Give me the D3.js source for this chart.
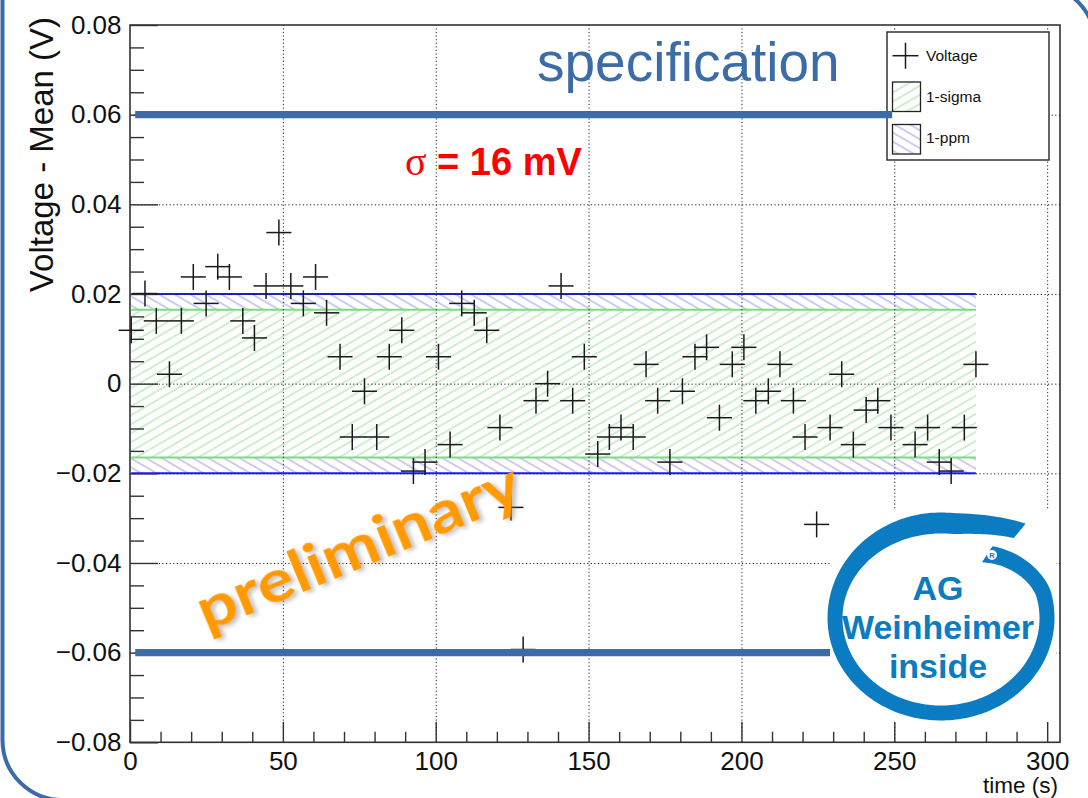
<!DOCTYPE html>
<html>
<head>
<meta charset="utf-8">
<script src="https://cdn.jsdelivr.net/npm/d3@7"></script>
<style>
  body { margin: 0; background: #fff; }
  svg { display: block; font-family: 'Liberation Sans', Arial, sans-serif; }
</style>
</head>
<body>
<div id="main"></div>
<script>
// measurement: time (s) and voltage minus mean (V)
const times = [0.4, 4.9, 8.6, 12.9, 16.8, 20.7, 24.9, 28.7, 32.5, 36.9, 40.7, 44.5, 48.7, 52.6,
  56.7, 60.7, 64.3, 68.7, 72.7, 76.7, 80.7, 84.8, 88.9, 92.7, 96.5, 100.9, 104.7, 108.5, 112.6,
  116.7, 121.0, 124.6, 128.6, 132.8, 136.6, 141.0, 144.8, 148.6, 153.0, 156.8, 160.6, 164.6,
  168.8, 172.6, 176.6, 180.7, 184.8, 188.6, 192.8, 197.0, 200.8, 204.7, 208.8, 212.6, 217.0,
  220.8, 224.6, 229.0, 232.8, 236.6, 240.8, 244.6, 248.9, 256.8, 260.9, 264.7, 268.6, 272.9,
  276.7];
const voltages = [0.0119, 0.0201, 0.0140, 0.0021, 0.0140, 0.0238, 0.0179, 0.0261, 0.0238, 0.0140,
  0.0102, 0.0218, 0.0337, 0.0218, 0.0179, 0.0238, 0.0158, 0.0060, -0.0119, -0.0017, -0.0119,
  0.0060, 0.0119, -0.0195, -0.0175, 0.0060, -0.0136, 0.0179, 0.0158, 0.0119, -0.0098, -0.0276,
  -0.0593, -0.0038, 0.0000, 0.0218, -0.0038, 0.0060, -0.0157, -0.0119, -0.0098, -0.0119, 0.0043,
  -0.0038, -0.0175, -0.0017, 0.0060, 0.0081, -0.0076, 0.0043, 0.0081, -0.0038, -0.0017, 0.0043,
  -0.0038, -0.0119, -0.0314, -0.0098, 0.0021, -0.0136, -0.0059, -0.0038, -0.0098, -0.0136,
  -0.0098, -0.0175, -0.0195, -0.0098, 0.0043];
const xErr = 4.1;
const yErr = 0.0029;
const sigmaBand = 0.0165;
const ppmBand = 0.02;
const specLimit = 0.06;
const specRange = [1.7, 249.3];
const xTicksMajor = [0, 50, 100, 150, 200, 250, 300];
const yTicksMajor = [-0.08, -0.06, -0.04, -0.02, 0, 0.02, 0.04, 0.06, 0.08];
const legendLabels = ['Voltage', '1-sigma', '1-ppm'];
const logoLines = ['AG', 'Weinheimer', 'inside'];

const width = 1088;
const height = 798;
const frame = { left: 130, right: 1060, top: 25, bottom: 742.3 };
const specColor = '#3b6ca7';
const logoColor = '#0b7bc2';

const svg = d3.select('#main')
  .append('svg')
  .attr('width', width)
  .attr('height', height);

const x = d3.scaleLinear().domain([0, 304.2]).range([frame.left, frame.right]);
const y = d3.scaleLinear().domain([-0.08, 0.08]).range([frame.bottom, frame.top]);

const defs = svg.append('defs');
const hatch = (id, color, angle) => {
  const p = defs.append('pattern')
    .attr('id', id)
    .attr('patternUnits', 'userSpaceOnUse')
    .attr('width', 10)
    .attr('height', 7.8)
    .attr('patternTransform', `rotate(${angle})`);
  p.append('line')
    .attr('x1', -1).attr('x2', 11)
    .attr('y1', 3.9).attr('y2', 3.9)
    .attr('stroke', color)
    .attr('stroke-width', 0.9);
};
hatch('hatch-green', '#8edc8e', -30);
hatch('hatch-blue', '#8a8af0', 30);

defs.append('filter')
  .attr('id', 'shadow')
  .attr('x', '-10%').attr('y', '-10%')
  .attr('width', '120%').attr('height', '130%')
  .append('feDropShadow')
  .attr('dx', 3).attr('dy', 3)
  .attr('stdDeviation', 2)
  .attr('flood-color', '#777')
  .attr('flood-opacity', 0.45);

// bands
const [t0, t1] = d3.extent(times);

svg.append('rect')
  .attr('x', x(t0)).attr('width', x(t1) - x(t0))
  .attr('y', y(ppmBand)).attr('height', y(-ppmBand) - y(ppmBand))
  .attr('fill', 'url(#hatch-blue)');

svg.append('rect')
  .attr('x', x(t0)).attr('width', x(t1) - x(t0))
  .attr('y', y(sigmaBand)).attr('height', y(-sigmaBand) - y(sigmaBand))
  .attr('fill', '#fff');

svg.append('rect')
  .attr('x', x(t0)).attr('width', x(t1) - x(t0))
  .attr('y', y(sigmaBand)).attr('height', y(-sigmaBand) - y(sigmaBand))
  .attr('fill', 'url(#hatch-green)');

[[ppmBand, '#1a1aff'], [-ppmBand, '#1a1aff'], [sigmaBand, '#7ddc7d'], [-sigmaBand, '#7ddc7d']]
  .forEach(([v, c]) => {
    svg.append('line')
      .attr('x1', x(t0)).attr('x2', x(t1))
      .attr('y1', y(v)).attr('y2', y(v))
      .attr('stroke', c)
      .attr('stroke-width', 2);
  });

// grid
svg.append('g')
  .attr('transform', `translate(0,${frame.bottom})`)
  .call(d3.axisBottom(x)
    .tickValues(xTicksMajor.slice(1))
    .tickSize(-(frame.bottom - frame.top))
    .tickFormat(''))
  .call((g) => g.select('.domain').remove())
  .selectAll('line')
  .attr('stroke', '#222')
  .attr('stroke-dasharray', '1.2,2.4');

svg.append('g')
  .attr('transform', `translate(${frame.left},0)`)
  .call(d3.axisLeft(y)
    .tickValues(yTicksMajor.slice(1, -1))
    .tickSize(-(frame.right - frame.left))
    .tickFormat(''))
  .call((g) => g.select('.domain').remove())
  .selectAll('line')
  .attr('stroke', '#222')
  .attr('stroke-dasharray', '1.2,2.4');

// frame
svg.append('rect')
  .attr('x', frame.left).attr('y', frame.top)
  .attr('width', frame.right - frame.left)
  .attr('height', frame.bottom - frame.top)
  .attr('fill', 'none')
  .attr('stroke', '#333')
  .attr('stroke-width', 1.6);

// axes, ticks inside the frame
const yMinor = d3.range(-16, 17).filter((k) => k % 4 !== 0).map((k) => k * 0.005);
const xMinor = d3.range(10, 301, 10).filter((v) => v % 50 !== 0);

const yAxis = svg.append('g')
  .attr('transform', `translate(${frame.left},0)`)
  .call(d3.axisLeft(y)
    .tickValues(yTicksMajor)
    .tickSize(-28)
    .tickPadding(8.5)
    .tickFormat((d) => (Math.abs(d) < 1e-9 ? '0' : d3.format('.2f')(d))));
yAxis.select('.domain').remove();
yAxis.selectAll('text')
  .attr('fill', '#111')
  .style('font-size', '26px');
yAxis.selectAll('line').attr('stroke', '#333').attr('stroke-width', 1.4);

svg.append('g')
  .attr('transform', `translate(${frame.left},0)`)
  .call(d3.axisLeft(y).tickValues(yMinor).tickSize(-14).tickFormat(''))
  .call((g) => g.select('.domain').remove())
  .selectAll('line')
  .attr('stroke', '#333')
  .attr('stroke-width', 1.4);

const xAxis = svg.append('g')
  .attr('transform', `translate(0,${frame.bottom})`)
  .call(d3.axisBottom(x)
    .tickValues(xTicksMajor)
    .tickSize(-20.5)
    .tickPadding(9)
    .tickFormat(d3.format('d')));
xAxis.select('.domain').remove();
xAxis.selectAll('text')
  .attr('fill', '#111')
  .style('font-size', '26px');
xAxis.selectAll('line').attr('stroke', '#333').attr('stroke-width', 1.4);

svg.append('g')
  .attr('transform', `translate(0,${frame.bottom})`)
  .call(d3.axisBottom(x).tickValues(xMinor).tickSize(-10.5).tickFormat(''))
  .call((g) => g.select('.domain').remove())
  .selectAll('line')
  .attr('stroke', '#333')
  .attr('stroke-width', 1.4);

svg.append('text')
  .attr('transform', 'translate(52.5,17) rotate(-90)')
  .attr('text-anchor', 'end')
  .attr('fill', '#111')
  .style('font-size', '33px')
  .text('Voltage - Mean (V)');

svg.append('text')
  .attr('x', 1058)
  .attr('y', 793)
  .attr('text-anchor', 'end')
  .attr('fill', '#111')
  .style('font-size', '22.5px')
  .text('time (s)');

// data points with error bars
const points = svg.append('g')
  .attr('stroke', '#1a1a1a')
  .attr('stroke-width', 1.5);

times.forEach((t, i) => {
  const v = voltages[i];
  points.append('line')
    .attr('x1', x(t - xErr)).attr('x2', x(t + xErr))
    .attr('y1', y(v)).attr('y2', y(v));
  points.append('line')
    .attr('x1', x(t)).attr('x2', x(t))
    .attr('y1', y(v - yErr)).attr('y2', y(v + yErr));
});

// annotations
svg.append('text')
  .attr('x', 537)
  .attr('y', 81)
  .attr('fill', specColor)
  .style('font-size', '55px')
  .text('specification');

const sigmaText = svg.append('text')
  .attr('x', 405)
  .attr('y', 175)
  .attr('fill', '#f00')
  .style('font-size', '38px')
  .style('font-weight', 'bold');
sigmaText.append('tspan')
  .style('font-family', '"Liberation Serif", serif')
  .style('font-weight', 'normal')
  .style('font-size', '40px')
  .text('σ');
sigmaText.append('tspan')
  .text(' = 16 mV');

svg.append('text')
  .attr('transform', 'translate(366,566) rotate(-22.5)')
  .attr('text-anchor', 'middle')
  .attr('fill', '#ff9b00')
  .attr('filter', 'url(#shadow)')
  .attr('textLength', 345)
  .attr('lengthAdjust', 'spacingAndGlyphs')
  .style('font-family', 'Lato, "Open Sans", sans-serif')
  .style('font-size', '60px')
  .style('font-weight', 'bold')
  .text('preliminary');

// legend
const legend = svg.append('g');
legend.append('rect')
  .attr('x', 887).attr('y', 32)
  .attr('width', 162).attr('height', 128)
  .attr('fill', '#fff')
  .attr('stroke', '#333')
  .attr('stroke-width', 1.5);

legend.append('line')
  .attr('x1', 892.5).attr('x2', 918.5)
  .attr('y1', 55.7).attr('y2', 55.7)
  .attr('stroke', '#1a1a1a').attr('stroke-width', 1.5);
legend.append('line')
  .attr('x1', 905.5).attr('x2', 905.5)
  .attr('y1', 42.7).attr('y2', 68.7)
  .attr('stroke', '#1a1a1a').attr('stroke-width', 1.5);

[['hatch-green', 82], ['hatch-blue', 124.5]].forEach(([id, top]) => {
  legend.append('rect')
    .attr('x', 892.5).attr('y', top)
    .attr('width', 28).attr('height', 29.5)
    .attr('fill', `url(#${id})`)
    .attr('stroke', '#222')
    .attr('stroke-width', 1.3);
});

legendLabels.forEach((label, i) => {
  legend.append('text')
    .attr('x', 926)
    .attr('y', [60.7, 102.3, 142.7][i])
    .attr('fill', '#111')
    .style('font-size', '15.5px')
    .text(label);
});

// specification limits
[specLimit, -specLimit].forEach((v) => {
  svg.append('line')
    .attr('x1', x(specRange[0])).attr('x2', x(specRange[1]))
    .attr('y1', y(v)).attr('y2', y(v))
    .attr('stroke', specColor)
    .attr('stroke-width', 7.3);
});

// logo
const logo = svg.append('g');
logo.append('rect')
  .attr('x', 830).attr('y', 510)
  .attr('width', 226).attr('height', 212)
  .attr('fill', '#fff');

const ring = { cx: 941, cy: 618, rx: 106, ry: 95 };
const angles = d3.range(-51, -417.1, -1.5);
const scaleAt = (a) => {
  if (a > -85) return 1 + 0.18 * ((a + 85) / 34) ** 1.6;
  if (a < -375) return 1 - 0.2 * ((-375 - a) / 42) ** 1.4;
  return 1;
};
const widthAt = (a) => 15 + 6 * Math.max(0, -Math.sin((a * Math.PI) / 180)) ** 2;
const edge = (sign) => angles.map((a) => {
  const r = (a * Math.PI) / 180;
  const s = scaleAt(a);
  const w = widthAt(a) / 2;
  return [ring.cx + (ring.rx * s + sign * w) * Math.cos(r),
    ring.cy + (ring.ry * s + sign * w) * Math.sin(r)];
});
const outline = edge(1).concat(edge(-1).reverse());
logo.append('path')
  .attr('d', `${d3.line()(outline)}Z`)
  .attr('fill', logoColor);

logo.append('circle')
  .attr('cx', 992).attr('cy', 555).attr('r', 5)
  .attr('fill', '#fff');
logo.append('text')
  .attr('x', 992).attr('y', 557.8)
  .attr('text-anchor', 'middle')
  .attr('fill', logoColor)
  .style('font-size', '7.5px')
  .style('font-weight', 'bold')
  .text('R');

logoLines.forEach((line, i) => {
  logo.append('text')
    .attr('x', 938)
    .attr('y', [600, 638.5, 678][i])
    .attr('text-anchor', 'middle')
    .attr('fill', logoColor)
    .style('font-size', '34px')
    .style('font-weight', 'bold')
    .text(line);
});

// slide border: straight left side, rounded bottom-left and top-right corners
svg.append('path')
  .attr('d', 'M2.5,-5 L2.5,740 A60,60 0 0 0 62.5,800 L1100,800 '
    + 'M1000,-15.9 L1035.3,-15.9 A60,60 0 0 1 1095.3,44.1 L1095.3,810')
  .attr('fill', 'none')
  .attr('stroke', specColor)
  .attr('stroke-width', 4);
</script>
</body>
</html>
